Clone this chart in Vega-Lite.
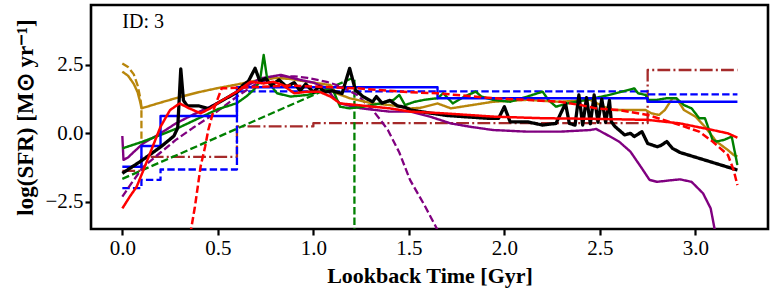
{
"$schema":"https://vega.github.io/schema/vega-lite/v6.json",
"width":677,"height":224,"autosize":"none",
"padding":{"left":91,"top":5,"right":6,"bottom":61},
"data":{"values":[
{"s":"brown","i":0,"x":0,"y":-1.37},{"s":"brown","i":1,"x":0.1,"y":-1.37},{"s":"brown","i":2,"x":0.1,"y":-0.86},{"s":"brown","i":3,"x":0.6,"y":-0.86},{"s":"brown","i":4,"x":0.6,"y":0.25},{"s":"brown","i":5,"x":1.0,"y":0.25},{"s":"brown","i":6,"x":1.0,"y":0.37},{"s":"brown","i":7,"x":2.75,"y":0.37},{"s":"brown","i":8,"x":2.75,"y":2.31},{"s":"brown","i":9,"x":3.22,"y":2.31},
{"s":"blue_d","i":0,"x":0,"y":-2.0},{"s":"blue_d","i":1,"x":0.1,"y":-2.0},{"s":"blue_d","i":2,"x":0.1,"y":-1.7},{"s":"blue_d","i":3,"x":0.2,"y":-1.7},{"s":"blue_d","i":4,"x":0.2,"y":-1.32},{"s":"blue_d","i":5,"x":0.6,"y":-1.32},{"s":"blue_d","i":6,"x":0.6,"y":1.53},{"s":"blue_d","i":7,"x":2.75,"y":1.53},{"s":"blue_d","i":8,"x":2.75,"y":1.42},{"s":"blue_d","i":9,"x":3.22,"y":1.42},
{"s":"green_d","i":0,"x":0,"y":-1.66},{"s":"green_d","i":1,"x":0.3,"y":-0.75},{"s":"green_d","i":2,"x":0.6,"y":0.17},{"s":"green_d","i":3,"x":0.9,"y":1.09},{"s":"green_d","i":4,"x":1.2,"y":2.0},{"s":"green_d","i":5,"x":1.215,"y":2.0},{"s":"green_d","i":6,"x":1.215,"y":-3.7},
{"s":"gold_d","i":0,"x":0,"y":2.55},{"s":"gold_d","i":1,"x":0.03,"y":2.42},{"s":"gold_d","i":2,"x":0.06,"y":2.15},{"s":"gold_d","i":3,"x":0.08,"y":1.75},{"s":"gold_d","i":4,"x":0.095,"y":1.25},{"s":"gold_d","i":5,"x":0.1,"y":0.97},{"s":"gold_d","i":6,"x":0.1,"y":-0.3},
{"s":"purple_d","i":0,"x":0,"y":-2.31},{"s":"purple_d","i":1,"x":0.05,"y":-1.8},{"s":"purple_d","i":2,"x":0.11,"y":-1.22},{"s":"purple_d","i":3,"x":0.2,"y":-0.7},{"s":"purple_d","i":4,"x":0.28,"y":-0.24},{"s":"purple_d","i":5,"x":0.37,"y":0.2},{"s":"purple_d","i":6,"x":0.46,"y":0.61},{"s":"purple_d","i":7,"x":0.6,"y":1.34},{"s":"purple_d","i":8,"x":0.7,"y":1.8},{"s":"purple_d","i":9,"x":0.8,"y":2.05},{"s":"purple_d","i":10,"x":0.9,"y":2.08},{"s":"purple_d","i":11,"x":0.97,"y":2.02},{"s":"purple_d","i":12,"x":1.07,"y":1.88},{"s":"purple_d","i":13,"x":1.14,"y":1.72},{"s":"purple_d","i":14,"x":1.23,"y":1.4},{"s":"purple_d","i":15,"x":1.31,"y":0.85},{"s":"purple_d","i":16,"x":1.35,"y":0.5},{"s":"purple_d","i":17,"x":1.39,"y":0.12},{"s":"purple_d","i":18,"x":1.45,"y":-0.7},{"s":"purple_d","i":19,"x":1.506,"y":-1.7},{"s":"purple_d","i":20,"x":1.58,"y":-2.6},{"s":"purple_d","i":21,"x":1.646,"y":-3.47},{"s":"purple_d","i":22,"x":1.67,"y":-3.8},
{"s":"gold","i":0,"x":0,"y":2.25},{"s":"gold","i":1,"x":0.03,"y":2.1},{"s":"gold","i":2,"x":0.06,"y":1.8},{"s":"gold","i":3,"x":0.08,"y":1.5},{"s":"gold","i":4,"x":0.095,"y":1.1},{"s":"gold","i":5,"x":0.1,"y":0.91},{"s":"gold","i":6,"x":0.2,"y":1.12},{"s":"gold","i":7,"x":0.3,"y":1.32},{"s":"gold","i":8,"x":0.4,"y":1.5},{"s":"gold","i":9,"x":0.5,"y":1.65},{"s":"gold","i":10,"x":0.6,"y":1.78},{"s":"gold","i":11,"x":0.7,"y":1.92},{"s":"gold","i":12,"x":0.8,"y":2.02},{"s":"gold","i":13,"x":0.88,"y":1.98},{"s":"gold","i":14,"x":0.97,"y":1.88},{"s":"gold","i":15,"x":1.09,"y":1.76},{"s":"gold","i":16,"x":1.12,"y":1.46},{"s":"gold","i":17,"x":1.19,"y":1.28},{"s":"gold","i":18,"x":1.31,"y":1.09},{"s":"gold","i":19,"x":1.4,"y":1.03},{"s":"gold","i":20,"x":1.51,"y":0.91},{"s":"gold","i":21,"x":1.56,"y":0.93},{"s":"gold","i":22,"x":1.65,"y":1.09},{"s":"gold","i":23,"x":1.72,"y":0.91},{"s":"gold","i":24,"x":1.94,"y":1.15},{"s":"gold","i":25,"x":2.12,"y":1.22},{"s":"gold","i":26,"x":2.29,"y":1.15},{"s":"gold","i":27,"x":2.45,"y":1.22},{"s":"gold","i":28,"x":2.47,"y":1.15},{"s":"gold","i":29,"x":2.52,"y":0.97},{"s":"gold","i":30,"x":2.57,"y":0.85},{"s":"gold","i":31,"x":2.74,"y":0.85},{"s":"gold","i":32,"x":2.77,"y":0.73},{"s":"gold","i":33,"x":2.81,"y":0.67},{"s":"gold","i":34,"x":2.84,"y":0.85},{"s":"gold","i":35,"x":2.88,"y":1.28},{"s":"gold","i":36,"x":2.9,"y":1.28},{"s":"gold","i":37,"x":2.94,"y":0.85},{"s":"gold","i":38,"x":3.0,"y":0.61},{"s":"gold","i":39,"x":3.05,"y":0.24},{"s":"gold","i":40,"x":3.11,"y":-0.3},{"s":"gold","i":41,"x":3.17,"y":-0.61},{"s":"gold","i":42,"x":3.2,"y":-0.79},{"s":"gold","i":43,"x":3.22,"y":-0.85},
{"s":"purple","i":0,"x":0,"y":-0.1},{"s":"purple","i":1,"x":0.006,"y":-0.97},{"s":"purple","i":2,"x":0.03,"y":-0.88},{"s":"purple","i":3,"x":0.06,"y":-0.68},{"s":"purple","i":4,"x":0.11,"y":-0.36},{"s":"purple","i":5,"x":0.2,"y":0.0},{"s":"purple","i":6,"x":0.28,"y":0.36},{"s":"purple","i":7,"x":0.37,"y":0.68},{"s":"purple","i":8,"x":0.46,"y":0.97},{"s":"purple","i":9,"x":0.55,"y":1.3},{"s":"purple","i":10,"x":0.62,"y":1.6},{"s":"purple","i":11,"x":0.67,"y":1.8},{"s":"purple","i":12,"x":0.72,"y":2.0},{"s":"purple","i":13,"x":0.83,"y":2.13},{"s":"purple","i":14,"x":0.93,"y":1.95},{"s":"purple","i":15,"x":1.0,"y":1.85},{"s":"purple","i":16,"x":1.07,"y":1.64},{"s":"purple","i":17,"x":1.1,"y":1.35},{"s":"purple","i":18,"x":1.14,"y":1.09},{"s":"purple","i":19,"x":1.25,"y":0.91},{"s":"purple","i":20,"x":1.4,"y":0.79},{"s":"purple","i":21,"x":1.51,"y":0.79},{"s":"purple","i":22,"x":1.61,"y":0.61},{"s":"purple","i":23,"x":1.72,"y":0.36},{"s":"purple","i":24,"x":1.82,"y":0.24},{"s":"purple","i":25,"x":1.94,"y":0.12},{"s":"purple","i":26,"x":2.12,"y":0.06},{"s":"purple","i":27,"x":2.29,"y":0.06},{"s":"purple","i":28,"x":2.45,"y":0.12},{"s":"purple","i":29,"x":2.48,"y":0.16},{"s":"purple","i":30,"x":2.57,"y":-0.18},{"s":"purple","i":31,"x":2.6,"y":-0.3},{"s":"purple","i":32,"x":2.66,"y":-0.67},{"s":"purple","i":33,"x":2.72,"y":-1.28},{"s":"purple","i":34,"x":2.76,"y":-1.7},{"s":"purple","i":35,"x":2.8,"y":-1.77},{"s":"purple","i":36,"x":2.86,"y":-1.72},{"s":"purple","i":37,"x":2.92,"y":-1.68},{"s":"purple","i":38,"x":2.98,"y":-1.77},{"s":"purple","i":39,"x":3.04,"y":-2.19},{"s":"purple","i":40,"x":3.08,"y":-2.74},{"s":"purple","i":41,"x":3.1,"y":-3.47},{"s":"purple","i":42,"x":3.12,"y":-4.0},
{"s":"green","i":0,"x":0,"y":-0.55},{"s":"green","i":1,"x":0.1,"y":-0.32},{"s":"green","i":2,"x":0.2,"y":-0.06},{"s":"green","i":3,"x":0.3,"y":0.22},{"s":"green","i":4,"x":0.4,"y":0.55},{"s":"green","i":5,"x":0.5,"y":0.88},{"s":"green","i":6,"x":0.6,"y":1.1},{"s":"green","i":7,"x":0.65,"y":1.35},{"s":"green","i":8,"x":0.69,"y":1.6},{"s":"green","i":9,"x":0.72,"y":1.9},{"s":"green","i":10,"x":0.74,"y":2.86},{"s":"green","i":11,"x":0.76,"y":1.9},{"s":"green","i":12,"x":0.81,"y":1.46},{"s":"green","i":13,"x":0.88,"y":1.34},{"s":"green","i":14,"x":0.97,"y":1.4},{"s":"green","i":15,"x":1.03,"y":1.52},{"s":"green","i":16,"x":1.09,"y":1.64},{"s":"green","i":17,"x":1.11,"y":1.46},{"s":"green","i":18,"x":1.14,"y":0.97},{"s":"green","i":19,"x":1.19,"y":0.91},{"s":"green","i":20,"x":1.26,"y":0.97},{"s":"green","i":21,"x":1.35,"y":1.09},{"s":"green","i":22,"x":1.42,"y":1.22},{"s":"green","i":23,"x":1.45,"y":1.4},{"s":"green","i":24,"x":1.48,"y":1.03},{"s":"green","i":25,"x":1.53,"y":1.15},{"s":"green","i":26,"x":1.58,"y":1.22},{"s":"green","i":27,"x":1.65,"y":1.28},{"s":"green","i":28,"x":1.68,"y":1.46},{"s":"green","i":29,"x":1.73,"y":1.09},{"s":"green","i":30,"x":1.79,"y":1.34},{"s":"green","i":31,"x":1.85,"y":1.52},{"s":"green","i":32,"x":1.88,"y":1.34},{"s":"green","i":33,"x":1.94,"y":1.22},{"s":"green","i":34,"x":2.03,"y":1.15},{"s":"green","i":35,"x":2.12,"y":1.34},{"s":"green","i":36,"x":2.2,"y":1.52},{"s":"green","i":37,"x":2.23,"y":1.22},{"s":"green","i":38,"x":2.27,"y":0.97},{"s":"green","i":39,"x":2.33,"y":1.09},{"s":"green","i":40,"x":2.45,"y":1.25},{"s":"green","i":41,"x":2.55,"y":1.4},{"s":"green","i":42,"x":2.68,"y":1.64},{"s":"green","i":43,"x":2.7,"y":1.46},{"s":"green","i":44,"x":2.74,"y":1.4},{"s":"green","i":45,"x":2.75,"y":1.22},{"s":"green","i":46,"x":2.8,"y":1.22},{"s":"green","i":47,"x":2.85,"y":1.28},{"s":"green","i":48,"x":2.9,"y":1.28},{"s":"green","i":49,"x":2.94,"y":1.03},{"s":"green","i":50,"x":2.98,"y":0.91},{"s":"green","i":51,"x":3.02,"y":0.55},{"s":"green","i":52,"x":3.05,"y":0.55},{"s":"green","i":53,"x":3.09,"y":-0.24},{"s":"green","i":54,"x":3.11,"y":-0.3},{"s":"green","i":55,"x":3.15,"y":-0.24},{"s":"green","i":56,"x":3.19,"y":-0.12},{"s":"green","i":57,"x":3.22,"y":-1.16},
{"s":"blue","i":0,"x":0,"y":-1.22},{"s":"blue","i":1,"x":0.1,"y":-1.22},{"s":"blue","i":2,"x":0.1,"y":-0.46},{"s":"blue","i":3,"x":0.2,"y":-0.46},{"s":"blue","i":4,"x":0.2,"y":0.63},{"s":"blue","i":5,"x":0.6,"y":0.63},{"s":"blue","i":6,"x":0.6,"y":1.68},{"s":"blue","i":7,"x":1.65,"y":1.68},{"s":"blue","i":8,"x":1.65,"y":1.28},{"s":"blue","i":9,"x":2.75,"y":1.28},{"s":"blue","i":10,"x":2.75,"y":1.15},{"s":"blue","i":11,"x":3.22,"y":1.15},
{"s":"black","i":0,"x":0,"y":-1.46},{"s":"black","i":1,"x":0.1,"y":-1.0},{"s":"black","i":2,"x":0.2,"y":-0.5},{"s":"black","i":3,"x":0.27,"y":-0.1},{"s":"black","i":4,"x":0.29,"y":0.2},{"s":"black","i":5,"x":0.306,"y":2.35},{"s":"black","i":6,"x":0.32,"y":1.2},{"s":"black","i":7,"x":0.34,"y":1.0},{"s":"black","i":8,"x":0.4,"y":1.0},{"s":"black","i":9,"x":0.45,"y":0.9},{"s":"black","i":10,"x":0.5,"y":1.1},{"s":"black","i":11,"x":0.55,"y":1.3},{"s":"black","i":12,"x":0.6,"y":1.5},{"s":"black","i":13,"x":0.63,"y":1.75},{"s":"black","i":14,"x":0.66,"y":1.9},{"s":"black","i":15,"x":0.695,"y":2.37},{"s":"black","i":16,"x":0.72,"y":1.9},{"s":"black","i":17,"x":0.75,"y":2.0},{"s":"black","i":18,"x":0.78,"y":1.75},{"s":"black","i":19,"x":0.82,"y":1.95},{"s":"black","i":20,"x":0.86,"y":1.7},{"s":"black","i":21,"x":0.9,"y":1.85},{"s":"black","i":22,"x":0.93,"y":1.55},{"s":"black","i":23,"x":0.96,"y":1.8},{"s":"black","i":24,"x":1.0,"y":1.5},{"s":"black","i":25,"x":1.03,"y":1.7},{"s":"black","i":26,"x":1.06,"y":1.5},{"s":"black","i":27,"x":1.1,"y":1.55},{"s":"black","i":28,"x":1.15,"y":1.45},{"s":"black","i":29,"x":1.19,"y":2.37},{"s":"black","i":30,"x":1.22,"y":1.58},{"s":"black","i":31,"x":1.26,"y":1.34},{"s":"black","i":32,"x":1.31,"y":1.15},{"s":"black","i":33,"x":1.33,"y":1.34},{"s":"black","i":34,"x":1.36,"y":1.1},{"s":"black","i":35,"x":1.4,"y":1.2},{"s":"black","i":36,"x":1.44,"y":1.0},{"s":"black","i":37,"x":1.48,"y":0.95},{"s":"black","i":38,"x":1.51,"y":0.85},{"s":"black","i":39,"x":1.6,"y":0.75},{"s":"black","i":40,"x":1.7,"y":0.65},{"s":"black","i":41,"x":1.8,"y":0.6},{"s":"black","i":42,"x":1.91,"y":0.55},{"s":"black","i":43,"x":1.97,"y":0.55},{"s":"black","i":44,"x":2.0,"y":0.97},{"s":"black","i":45,"x":2.03,"y":0.42},{"s":"black","i":46,"x":2.12,"y":0.42},{"s":"black","i":47,"x":2.2,"y":0.3},{"s":"black","i":48,"x":2.27,"y":0.36},{"s":"black","i":49,"x":2.32,"y":1.09},{"s":"black","i":50,"x":2.34,"y":0.36},{"s":"black","i":51,"x":2.37,"y":0.3},{"s":"black","i":52,"x":2.39,"y":1.4},{"s":"black","i":53,"x":2.41,"y":0.3},{"s":"black","i":54,"x":2.43,"y":1.3},{"s":"black","i":55,"x":2.45,"y":0.35},{"s":"black","i":56,"x":2.47,"y":1.4},{"s":"black","i":57,"x":2.49,"y":0.4},{"s":"black","i":58,"x":2.51,"y":1.25},{"s":"black","i":59,"x":2.53,"y":0.4},{"s":"black","i":60,"x":2.55,"y":1.2},{"s":"black","i":61,"x":2.56,"y":0.42},{"s":"black","i":62,"x":2.58,"y":0.24},{"s":"black","i":63,"x":2.61,"y":0.06},{"s":"black","i":64,"x":2.63,"y":-0.06},{"s":"black","i":65,"x":2.66,"y":0.0},{"s":"black","i":66,"x":2.68,"y":-0.12},{"s":"black","i":67,"x":2.72,"y":0.06},{"s":"black","i":68,"x":2.75,"y":-0.37},{"s":"black","i":69,"x":2.8,"y":-0.49},{"s":"black","i":70,"x":2.82,"y":-0.44},{"s":"black","i":71,"x":2.85,"y":-0.3},{"s":"black","i":72,"x":2.88,"y":-0.55},{"s":"black","i":73,"x":2.92,"y":-0.7},{"s":"black","i":74,"x":3.22,"y":-1.34},
{"s":"red_d","i":0,"x":0.355,"y":-3.7},{"s":"red_d","i":1,"x":0.38,"y":-2.68},{"s":"red_d","i":2,"x":0.41,"y":-1.2},{"s":"red_d","i":3,"x":0.433,"y":-0.5},{"s":"red_d","i":4,"x":0.45,"y":0.12},{"s":"red_d","i":5,"x":0.48,"y":0.9},{"s":"red_d","i":6,"x":0.52,"y":1.64},{"s":"red_d","i":7,"x":0.6,"y":1.66},{"s":"red_d","i":8,"x":0.88,"y":1.74},{"s":"red_d","i":9,"x":1.23,"y":1.64},{"s":"red_d","i":10,"x":1.5,"y":1.5},{"s":"red_d","i":11,"x":1.65,"y":1.46},{"s":"red_d","i":12,"x":1.94,"y":1.28},{"s":"red_d","i":13,"x":2.12,"y":1.22},{"s":"red_d","i":14,"x":2.29,"y":1.15},{"s":"red_d","i":15,"x":2.4,"y":1.03},{"s":"red_d","i":16,"x":2.48,"y":0.91},{"s":"red_d","i":17,"x":2.6,"y":0.85},{"s":"red_d","i":18,"x":2.75,"y":0.67},{"s":"red_d","i":19,"x":2.92,"y":0.3},{"s":"red_d","i":20,"x":3.02,"y":0.06},{"s":"red_d","i":21,"x":3.09,"y":-0.3},{"s":"red_d","i":22,"x":3.17,"y":-0.79},{"s":"red_d","i":23,"x":3.2,"y":-1.34},{"s":"red_d","i":24,"x":3.22,"y":-1.89},
{"s":"red","i":0,"x":0,"y":-2.74},{"s":"red","i":1,"x":0.04,"y":-2.3},{"s":"red","i":2,"x":0.075,"y":-1.95},{"s":"red","i":3,"x":0.11,"y":-1.35},{"s":"red","i":4,"x":0.145,"y":-0.73},{"s":"red","i":5,"x":0.2,"y":0.24},{"s":"red","i":6,"x":0.25,"y":0.85},{"s":"red","i":7,"x":0.3,"y":1.09},{"s":"red","i":8,"x":0.35,"y":0.91},{"s":"red","i":9,"x":0.41,"y":0.73},{"s":"red","i":10,"x":0.46,"y":0.91},{"s":"red","i":11,"x":0.51,"y":1.15},{"s":"red","i":12,"x":0.6,"y":1.52},{"s":"red","i":13,"x":0.67,"y":1.88},{"s":"red","i":14,"x":0.74,"y":1.82},{"s":"red","i":15,"x":0.79,"y":1.88},{"s":"red","i":16,"x":0.84,"y":1.76},{"s":"red","i":17,"x":0.9,"y":1.46},{"s":"red","i":18,"x":0.97,"y":1.52},{"s":"red","i":19,"x":1.03,"y":1.52},{"s":"red","i":20,"x":1.09,"y":1.34},{"s":"red","i":21,"x":1.14,"y":1.09},{"s":"red","i":22,"x":1.23,"y":1.03},{"s":"red","i":23,"x":1.4,"y":0.91},{"s":"red","i":24,"x":1.51,"y":0.79},{"s":"red","i":25,"x":1.68,"y":0.73},{"s":"red","i":26,"x":1.94,"y":0.61},{"s":"red","i":27,"x":2.2,"y":0.55},{"s":"red","i":28,"x":2.45,"y":0.53},{"s":"red","i":29,"x":2.75,"y":0.49},{"s":"red","i":30,"x":2.92,"y":0.36},{"s":"red","i":31,"x":3.09,"y":0.12},{"s":"red","i":32,"x":3.17,"y":0.0},{"s":"red","i":33,"x":3.22,"y":-0.16}
]},
"layer":[
{"encoding":{
"x":{"field":"x","type":"quantitative","title":"Lookback Time [Gyr]","scale":{"domain":[-0.164,3.38],"nice":false,"zero":false},"axis":{"values":[0,0.5,1,1.5,2,2.5,3],"format":".1f","labelPadding":2,"titlePadding":7,"titleFontSize":22}},
"y":{"field":"y","type":"quantitative","title":"log(SFR) [M⊙ yr⁻¹]","scale":{"domain":[-3.49,4.68],"nice":false,"zero":false},"axis":{"values":[-2.5,0,2.5],"format":".1f","labelPadding":2,"titlePadding":7,"titleFontSize":23}},
"color":{"field":"s","type":"nominal","legend":null,"scale":{"domain":["brown","blue_d","green_d","gold_d","purple_d","gold","purple","green","blue","black","red_d","red"],"range":["#a52a2a","#0000ff","#008000","#b8860b","#800080","#b8860b","#800080","#008000","#0000ff","#000000","#ff0000","#ff0000"]}},
"strokeDash":{"field":"s","type":"nominal","legend":null,"scale":{"domain":["brown","blue_d","green_d","gold_d","purple_d","gold","purple","green","blue","black","red_d","red"],"range":[[12.8,3.2,2,3.2],[7.4,3.2],[7.4,3.2],[7.4,3.2],[7.4,3.2],[1,0],[1,0],[1,0],[1,0],[1,0],[7.4,3.2],[1,0]]}},
"order":{"field":"i","type":"quantitative"}
},
"layer":[
{"transform":[{"filter":{"field":"s","oneOf":["brown","blue_d","green_d","gold_d","purple_d"]}}],"mark":{"type":"line","clip":true,"strokeWidth":2.3,"strokeJoin":"round"}},
{"transform":[{"filter":{"field":"s","oneOf":["gold","purple","green","blue"]}}],"mark":{"type":"line","clip":true,"strokeWidth":2.4,"strokeJoin":"round"}},
{"transform":[{"filter":{"field":"s","oneOf":["black"]}}],"mark":{"type":"line","clip":true,"strokeWidth":3.3,"strokeJoin":"round"}},
{"transform":[{"filter":{"field":"s","oneOf":["red_d","red"]}}],"mark":{"type":"line","clip":true,"strokeWidth":2.5,"strokeJoin":"round"}}
]},
{"data":{"values":[{"label":"ID: 3"}]},
"mark":{"type":"text","align":"left","baseline":"alphabetic","font":"Liberation Serif","fontSize":20,"color":"black"},
"encoding":{"x":{"datum":0.0,"type":"quantitative","title":"Lookback Time [Gyr]"},"y":{"datum":3.84,"type":"quantitative","title":"log(SFR) [M⊙ yr⁻¹]"},"text":{"field":"label"}}}
],
"config":{
"view":{"stroke":"black","strokeWidth":2.6},
"axis":{"domain":false,"grid":false,"ticks":true,"tickColor":"black","tickWidth":2.2,"tickSize":6,"labelFont":"Liberation Serif","labelFontSize":21,"labelColor":"black","labelFlush":false,"labelOverlap":false,"titleFont":"Liberation Serif","titleFontSize":21,"titleFontWeight":"bold","titleColor":"black"}
}
}
